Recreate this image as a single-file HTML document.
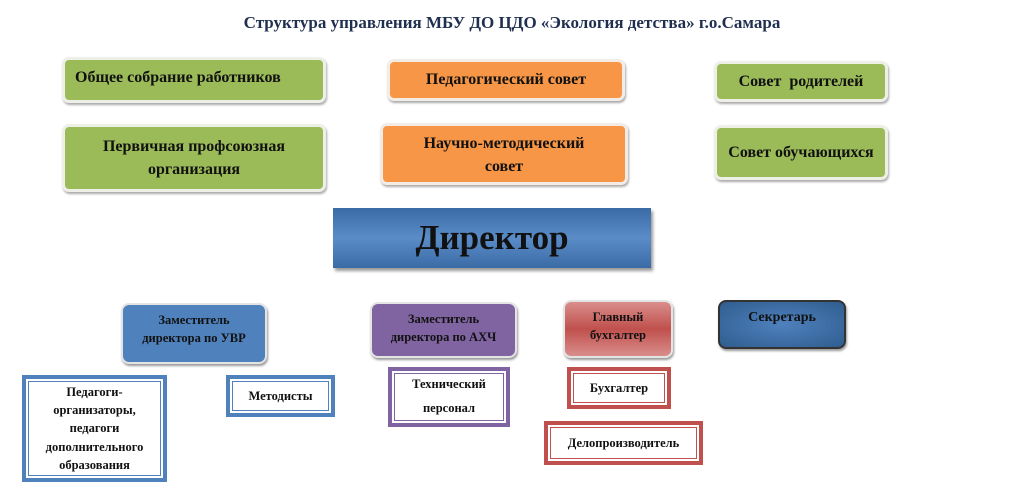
<!DOCTYPE html>
<html><head><meta charset="utf-8"><style>
body{margin:0;width:1024px;height:503px;background:#fff;position:relative;overflow:hidden;font-family:"Liberation Serif","Noto Serif CJK SC",serif;font-weight:bold;color:#111}
.b{position:absolute;box-sizing:border-box;display:flex;align-items:center;justify-content:center;text-align:center;line-height:1.45}
.g{background:#9bbb59;border-radius:7px;border:3px solid #eef0e8;box-shadow:1px 2px 2px #aaa;font-size:16px}
.o{background:#f79646;border-radius:7px;border:3px solid #f3ece6;box-shadow:1px 2px 2px #aaa;font-size:16px}
.d{border-radius:8px;border:2px solid #e4e4e4;box-shadow:1px 2px 2px #999;font-size:12.5px;align-items:flex-start;padding-top:6px}
.f{background:#fff;font-size:12.5px}
.bl{border:4px solid #4f81bd;box-shadow:inset 0 0 0 2px #fff,inset 0 0 0 3px #4f81bd}
.pu{border:4px solid #8064a2;box-shadow:inset 0 0 0 2px #fff,inset 0 0 0 3px #8064a2}
.re{border:4px solid #c0504d;box-shadow:inset 0 0 0 2px #fff,inset 0 0 0 3px #c0504d}
</style></head><body>
<div class="b" style="left:0;top:10px;width:1024px;height:26px;font-size:17px;color:#1f2f4f">Структура управления МБУ ДО ЦДО «Экология детства» г.о.Самара</div>

<div class="b g" style="left:62px;top:57px;width:264px;height:46px;justify-content:flex-start;padding-left:10px;align-items:flex-start;padding-top:6px">Общее собрание работников</div>
<div class="b g" style="left:62px;top:124px;width:264px;height:68px">Первичная профсоюзная<br>организация</div>
<div class="b o" style="left:387px;top:59px;width:238px;height:42px">Педагогический совет</div>
<div class="b o" style="left:380px;top:123px;width:248px;height:62px;align-items:flex-start;padding-top:6px">Научно-методический<br>совет</div>
<div class="b g" style="left:714px;top:61px;width:174px;height:41px">Совет&nbsp; родителей</div>
<div class="b g" style="left:714px;top:125px;width:174px;height:55px">Совет обучающихся</div>

<div class="b" style="left:333px;top:208px;width:318px;height:60px;background:linear-gradient(#3b6ba5,#5a8cc8 50%,#3b6ba5);box-shadow:2px 3px 3px #999;font-size:35px;color:#111">Директор</div>

<div class="b d" style="left:121px;top:303px;width:146px;height:61px;background:#4f81bd">Заместитель<br>директора по УВР</div>
<div class="b d" style="left:370px;top:302px;width:147px;height:56px;background:#8064a2">Заместитель<br>директора по АХЧ</div>
<div class="b d" style="left:563px;top:300px;width:110px;height:58px;background:linear-gradient(#d98e8c,#c0504d 50%,#d98e8c)">Главный<br>бухгалтер</div>
<div class="b d" style="left:718px;top:300px;width:128px;height:49px;background:radial-gradient(#4f81bd,#2f5d8f);font-size:14px;border-color:#333">Секретарь</div>

<div class="b f bl" style="left:22px;top:375px;width:145px;height:107px">Педагоги-<br>организаторы,<br>педагоги<br>дополнительного<br>образования</div>
<div class="b f bl" style="left:226px;top:375px;width:109px;height:42px">Методисты</div>
<div class="b f pu" style="left:388px;top:367px;width:122px;height:60px;line-height:1.9">Технический<br>персонал</div>
<div class="b f re" style="left:567px;top:367px;width:104px;height:42px">Бухгалтер</div>
<div class="b f re" style="left:544px;top:421px;width:159px;height:44px">Делопроизводитель</div>
</body></html>
